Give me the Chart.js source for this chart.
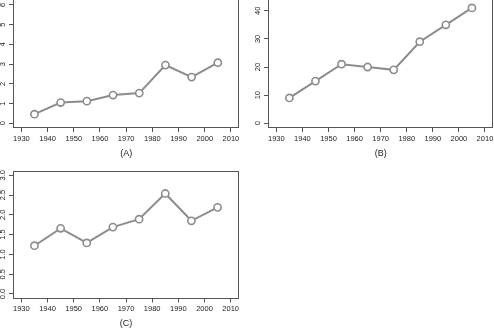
<!DOCTYPE html>
<html>
<head>
<meta charset="utf-8">
<script src="https://cdn.jsdelivr.net/npm/chart.js"></script>
<style>
  body { margin: 0; background: #fff; width: 494px; height: 328px; overflow: hidden; position: relative; }
  canvas { position: absolute; }
</style>
</head>
<body>
<canvas id="chartA" width="240" height="162" style="left:0;top:-1px"></canvas>
<canvas id="chartB" width="247" height="162" style="left:247px;top:-1px"></canvas>
<canvas id="chartC" width="240" height="168" style="left:0;top:160px"></canvas>
<script>
// data
const years = [1935, 1945, 1955, 1965, 1975, 1985, 1995, 2005];
const valuesA = [0.46, 1.05, 1.12, 1.43, 1.53, 2.95, 2.34, 3.07];
const valuesB = [9, 15, 21, 20, 19, 29, 35, 41];
const valuesC = [1.22, 1.66, 1.29, 1.69, 1.89, 2.54, 1.85, 2.19];
const xTicks = [1930, 1940, 1950, 1960, 1970, 1980, 1990, 2000, 2010];
const yTicksA = [0, 1, 2, 3, 4, 5, 6];
const yTicksB = [0, 10, 20, 30, 40];
const yTicksC = [0, 0.5, 1, 1.5, 2, 2.5, 3];

const lineColor = '#8c8c8c';
const axisColor = '#555';
const textColor = '#222';

// R style box round the plot area
const boxPlugin = {
    id: 'box',
    beforeDatasetsDraw(chart) {
        const { ctx, chartArea: a } = chart;
        ctx.save();
        ctx.strokeStyle = axisColor;
        ctx.lineWidth = 1;
        ctx.strokeRect(Math.round(a.left) + 0.5, Math.round(a.top) + 0.5,
            Math.round(a.right - a.left) - 1, Math.round(a.bottom - a.top) - 1);
        ctx.restore();
    }
};

const makeChart = (id, values, yTicks, opts) => {
    return new Chart(document.getElementById(id), {
        type: 'line',
        data: {
            datasets: [{
                data: years.map((x, i) => ({ x: x, y: values[i] })),
                borderColor: lineColor,
                borderWidth: 2,
                pointRadius: 3.6,
                pointBorderWidth: 1.6,
                pointBackgroundColor: '#fff',
                pointBorderColor: lineColor,
                tension: 0
            }]
        },
        options: {
            responsive: false,
            animation: false,
            events: [],
            layout: { padding: opts.padding, autoPadding: false },
            plugins: { legend: { display: false }, tooltip: { enabled: false } },
            scales: {
                x: {
                    type: 'linear',
                    min: 1926.8,
                    max: 2013.2,
                    afterBuildTicks: s => { s.ticks = xTicks.map(v => ({ value: v })); },
                    afterFit: s => { s.height = opts.xHeight; s.paddingLeft = 0; s.paddingRight = 0; },
                    grid: { drawOnChartArea: false, drawTicks: true, tickLength: 4, tickColor: axisColor },
                    border: { display: false },
                    ticks: {
                        color: textColor,
                        font: { family: 'Liberation Sans', size: 7.5 },
                        padding: 2,
                        maxRotation: 0,
                        autoSkip: false,
                        callback: v => String(v)
                    },
                    title: {
                        display: true,
                        text: opts.title,
                        color: textColor,
                        font: { family: 'Liberation Sans', size: 9, lineHeight: 1 },
                        padding: { top: 0, bottom: opts.titlePad }
                    }
                },
                y: {
                    type: 'linear',
                    min: opts.yMin,
                    max: opts.yMax,
                    afterBuildTicks: s => { s.ticks = yTicks.map(v => ({ value: v })); },
                    afterFit: s => { s.width = opts.yWidth; s.paddingTop = 0; s.paddingBottom = 0; },
                    grid: { drawOnChartArea: false, drawTicks: true, tickLength: 4, tickColor: axisColor },
                    border: { display: false },
                    ticks: {
                        color: textColor,
                        font: { family: 'Liberation Sans', size: 7.5 },
                        padding: opts.yPad,
                        minRotation: 90,
                        maxRotation: 90,
                        crossAlign: 'center',
                        autoSkip: false,
                        callback: opts.fmt
                    }
                }
            }
        },
        plugins: [boxPlugin]
    });
};

makeChart('chartA', valuesA, yTicksA, {
    padding: { left: 0, right: 0.7, top: 0, bottom: 0 },
    yMin: -0.24, yMax: 6.30, yWidth: 13, yPad: 3.6, xHeight: 33,
    title: '(A)', titlePad: 3.2, fmt: v => String(v)
});
makeChart('chartB', valuesB, yTicksB, {
    padding: { left: 0, right: 0.7, top: 0, bottom: 0 },
    yMin: -1.68, yMax: 44.18, yWidth: 21, yPad: 2.1, xHeight: 33,
    title: '(B)', titlePad: 3.2, fmt: v => String(v)
});
makeChart('chartC', valuesC, yTicksC, {
    padding: { left: 0, right: 1, top: 10.7, bottom: 0 },
    yMin: -0.114, yMax: 3.116, yWidth: 13, yPad: 0.5, xHeight: 29.5,
    title: '(C)', titlePad: 0, fmt: v => v.toFixed(1)
});
</script>
</body>
</html>
